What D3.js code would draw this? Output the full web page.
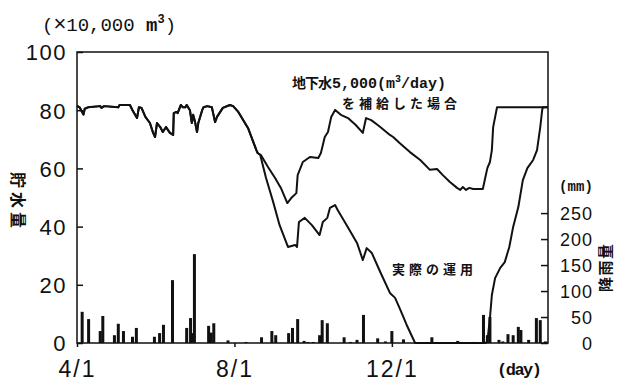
<!DOCTYPE html>
<html>
<head>
<meta charset="utf-8">
<script src="https://cdn.jsdelivr.net/npm/d3@7"></script>
<style>
  html, body { margin: 0; padding: 0; background: #fff; }
  svg { display: block; }
</style>
</head>
<body>
<svg id="chart" width="619" height="381"></svg>
<script>
// Days are counted from 4/1 (day 0) through the following 3/31 (day 365).

// Storage shared by both cases until the groundwater supply starts (×10,000 m³)
const storageShared = [
  [0,81.5],[2,81],[5,78.5],[6,80.5],[8.5,81],[18,81.4],[19,80.8],[21,81.4],[32,81],
  [33,81.8],[41,81.8],[43,80],[46.5,77.3],[48,81],[50,80.8],[53,77.7],[56.5,75.6],
  [59,72.2],[60.5,70.8],[62,75.6],[64.5,74.2],[66.5,72.5],[69,74.2],[72,72.2],
  [74.5,71.5],[75,79],[77,79.4],[78,79],[80.5,81.8],[82,81],[84,81],[85,81.8],
  [87.5,80],[89,75.6],[90,78.4],[91.5,75.9],[93,72.5],[94,75.6],[97,80],[98,81],
  [101,81.4],[104.5,81],[105.5,79],[107,75.9],[108.5,77.7],[113,80.8],[118.5,81.8],
  [121,81.4],[125,79.4],[132.5,73.9],[139,66.3],[140,65.3]
];

// With 5,000 m³/day of groundwater supplied
const storageSupplied = [
  [142.5,64.6],[148,60.5],[153.5,56.7],[158,53.3],[163,48.1],[166,49.8],[170,51.5],
  [171,57.7],[175,62.2],[180.5,63.9],[187,63.6],[189,65.3],[192,70.8],[194.5,72.5],
  [197,77.7],[200,80.1],[204.5,78.4],[210,77.3],[216,74.9],[221.5,72.2],[224,77.3],
  [228,76.6],[233,74.9],[235,74.2],[242.5,71.5],[245,70.8],[250,68.7],[258,65.6],
  [266,62.9],[273.5,59.5],[279,59.8],[283.5,57.7],[289,55.3],[294.5,53.3],[297,52.6],
  [299,53.6],[301.5,52.6],[304,53.3],[307,52.9],[314.5,52.9],[316,56],[318,60.1],
  [320,62.2],[321.5,66.3],[322.5,74.2],[325.5,81],[365,81]
];

// Actual operation
const storageActual = [
  [142,64.6],[146.5,56.7],[152,48.5],[157,40.5],[163.5,33],[169,33.7],[170.5,33],
  [172,41.6],[176.5,43],[182,40.5],[188,37.1],[190.5,41.6],[194,43],[196,46.4],
  [200,47.4],[202,45.7],[209,40.5],[217,34.4],[221.5,28.5],[224.5,32.6],[228.5,30.9],
  [235,24.4],[242.5,17.2],[246.5,15.5],[250,12],[255.5,6.2],[262,0],[316,0],[318,0.3],
  [320,8.6],[321.5,16.5],[324,22.3],[328,25.8],[331.5,27.8],[335,33],[338,39.9],
  [342,46.7],[345.5,56],[349,60.1],[353.5,62.9],[356.5,66.3],[359,74.2],[360.5,80.1],
  [361,81],[365,81]
];

// Daily rainfall (mm)
const rainDays = [4,9,18,20,29,32,36,43,46,60,64,67,74,85,88,89,91,102,104,106,117,131,
  143,151,154,164,167,171,176,179,183,188,190,194,207,212,217,222,233,239,244,253,275,
  295,307,315,318,320,327,330,334,338,342,344,350,356,359,363];
const rainMM = [60,46,23,52,15,37,23,12,29,12,19,35,121,29,48,19,171,33,20,38,5,2,
  11,23,15,19,29,46,4,2,2,15,44,38,11,2,6,54,9,3,23,7,11,
  4,2,54,15,50,6,3,17,15,31,25,6,48,44,3];

const storageTicks = [0,20,40,60,80,100];
const rainTicks = [0,50,100,150,200,250];
const dateTickDays = [0,122,244];
const dateTickLabels = ["4/1","8/1","12/1"];

const svg = d3.select("#chart");
const plotLeft = 77, plotRight = 548, plotTop = 52, plotBottom = 343;

const x = d3.scaleLinear().domain([0,365]).range([plotLeft,plotRight]);
const yStore = d3.scaleLinear().domain([0,100]).range([plotBottom,plotTop]);
const yRain = d3.scaleLinear().domain([0,560]).range([plotBottom,plotTop]);

const numFont = "'Liberation Sans', Arial, sans-serif";
const monoFont = "'Liberation Mono', 'DejaVu Sans Mono', monospace";
const jpFont = "'Noto Sans CJK JP', sans-serif";

// rainfall bars
svg.append("g").selectAll("rect")
  .data(rainDays.map((d,i) => [d, rainMM[i]]))
  .join("rect")
  .attr("x", d => x(d[0]) - 1.5)
  .attr("width", 3)
  .attr("y", d => yRain(d[1]))
  .attr("height", d => yRain(0) - yRain(d[1]))
  .attr("fill", "#111");

// storage curves
const line = d3.line().x(d => x(d[0])).y(d => yStore(d[1]));
[storageShared.concat(storageSupplied), storageShared.concat(storageActual)].forEach(s => {
  svg.append("path")
    .attr("d", line(s))
    .attr("fill", "none")
    .attr("stroke", "#111")
    .attr("stroke-width", 2)
    .attr("stroke-linejoin", "round");
});

// frame
svg.append("rect")
  .attr("x", plotLeft).attr("y", plotTop)
  .attr("width", plotRight - plotLeft).attr("height", plotBottom - plotTop)
  .attr("fill", "none").attr("stroke", "#111").attr("stroke-width", 1.5);

// left axis (storage)
const gL = svg.append("g").attr("transform", `translate(${plotLeft},0)`)
  .call(d3.axisLeft(yStore).tickValues(storageTicks).tickSizeInner(-6).tickSizeOuter(0).tickPadding(10));
gL.select(".domain").remove();
gL.selectAll("line").attr("stroke", "#111").attr("stroke-width", 1.5);
gL.selectAll("text")
  .attr("font-family", numFont).attr("font-size", 22).attr("fill", "#111")
  .attr("letter-spacing", 1.5).attr("dy", "0.36em");

// right axis (rainfall)
const gR = svg.append("g").attr("transform", `translate(${plotRight},0)`)
  .call(d3.axisRight(yRain).tickValues(rainTicks).tickSizeInner(-7).tickSizeOuter(0));
gR.select(".domain").remove();
gR.selectAll("line").attr("stroke", "#111").attr("stroke-width", 1.5);
gR.selectAll("text")
  .attr("x", 45).attr("text-anchor", "end")
  .attr("font-family", numFont).attr("font-size", 18).attr("fill", "#111")
  .attr("letter-spacing", 1).attr("dy", "0.36em");

// bottom axis (dates)
const gB = svg.append("g").attr("transform", `translate(0,${plotBottom})`)
  .call(d3.axisBottom(x).tickValues(dateTickDays).tickFormat((d,i) => dateTickLabels[i])
    .tickSizeInner(4).tickSizeOuter(0));
gB.select(".domain").remove();
gB.selectAll("line").attr("stroke", "#111").attr("stroke-width", 1.5);
gB.selectAll("text")
  .attr("y", 34).attr("dy", 0)
  .attr("font-family", numFont).attr("font-size", 23).attr("fill", "#111")
  .attr("letter-spacing", 2);

// storage unit
const unit = svg.append("text").attr("x", 42).attr("y", 31)
  .attr("font-family", monoFont).attr("font-size", 19).attr("fill", "#111");
unit.append("tspan").text("(");
unit.append("tspan").attr("font-family", numFont).attr("font-size", 22).text("×");
unit.append("tspan").text("10,000 ");
unit.append("tspan").attr("font-weight", "bold").text("m");
unit.append("tspan").attr("font-size", 12).attr("font-weight", "bold").attr("dy", -8).text("3");
unit.append("tspan").attr("dy", 8).text(")");

// rainfall unit
svg.append("text").attr("x", 559).attr("y", 191)
  .attr("font-family", monoFont).attr("font-size", 14).attr("font-weight", "bold").attr("fill", "#111")
  .attr("textLength", 34).attr("lengthAdjust", "spacing")
  .text("(mm)");

svg.append("text").attr("x", 497).attr("y", 375)
  .attr("font-family", monoFont).attr("font-size", 17).attr("font-weight", "bold").attr("fill", "#111")
  .attr("textLength", 45).attr("lengthAdjust", "spacing")
  .text("(day)");

// axis titles
svg.append("text")
  .attr("transform", "translate(12,200) rotate(90)")
  .attr("text-anchor", "middle")
  .attr("font-family", jpFont).attr("font-size", 16).attr("font-weight", "bold").attr("fill", "#111")
  .attr("textLength", 56).attr("lengthAdjust", "spacing")
  .text("貯水量");

svg.append("text")
  .attr("transform", "translate(611,268) rotate(-90)")
  .attr("text-anchor", "middle")
  .attr("font-family", jpFont).attr("font-size", 15).attr("font-weight", "bold").attr("fill", "#111")
  .attr("textLength", 48).attr("lengthAdjust", "spacing")
  .text("降雨量");

// curve annotations
const note1 = svg.append("text").attr("x", 292).attr("y", 88)
  .attr("font-weight", "bold").attr("fill", "#111");
note1.append("tspan").attr("font-family", jpFont).attr("font-size", 14).attr("letter-spacing", -1).text("地下水");
note1.append("tspan").attr("font-family", monoFont).attr("font-size", 15).attr("dx", 1).text("5,000(m");
note1.append("tspan").attr("font-family", monoFont).attr("font-size", 10).attr("dy", -6).text("3");
note1.append("tspan").attr("font-family", monoFont).attr("font-size", 15).attr("dy", 6).text("/day)");

svg.append("text").attr("x", 342).attr("y", 108)
  .attr("font-family", jpFont).attr("font-size", 13).attr("font-weight", "bold").attr("fill", "#111")
  .attr("textLength", 115).attr("lengthAdjust", "spacing")
  .text("を補給した場合");

svg.append("text").attr("x", 392).attr("y", 274)
  .attr("font-family", jpFont).attr("font-size", 13).attr("font-weight", "bold").attr("fill", "#111")
  .attr("textLength", 81).attr("lengthAdjust", "spacing")
  .text("実際の運用");
</script>
</body>
</html>
